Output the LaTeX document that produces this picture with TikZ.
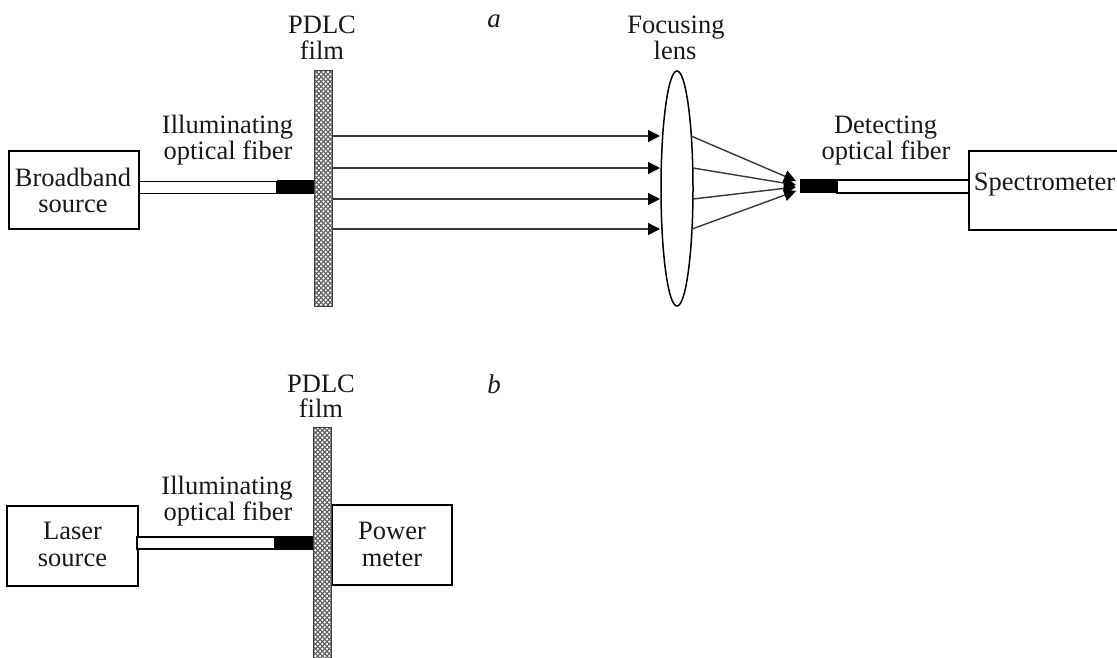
\documentclass[tikz,border=0pt]{standalone}
\usepackage{fontspec}
\setmainfont{Liberation Serif}
\usetikzlibrary{arrows.meta,shapes.geometric}
\tikzset{
  box/.style={draw,line width=1.5pt,fill=white,inner sep=0pt},
  lbl/.style={inner sep=0pt,text=black!90,font=\fontsize{26.5}{27}\selectfont,anchor=base},
  ital/.style={inner sep=0pt,anchor=base,text=black!90,font=\fontsize{27}{27}\selectfont\itshape},
  fibw/.style={draw,line width=1.5pt,fill=white,inner sep=0pt},
  fibb/.style={draw,line width=1pt,fill=black,inner sep=0pt},
  ray/.style={draw=black!78,line width=1.4pt,-{Triangle[length=12pt,width=12pt,color=black,fill=black]}},
  film/.style={draw=black!75,line width=1pt,fill=black!62,inner sep=0pt,
    minimum width=18pt,path picture={
      \foreach \i in {0,...,48}{\foreach \j in {0,...,4}{
        \fill[white] ([xshift=\j*4.6pt-0.3pt,yshift=\i*-4.8pt-1pt]path picture bounding box.north west) circle (1.3pt);
        \fill[white] ([xshift=\j*4.6pt+2pt,yshift=\i*-4.8pt-3.4pt]path picture bounding box.north west) circle (1.3pt);
      }}}},
}
\begin{document}
\begin{tikzpicture}[x=1pt,y=-1pt]
\useasboundingbox (0,0) rectangle (1117,658);
% panel a
\node[box,minimum width=130pt,minimum height=78pt] (bb) at (74,190) {};
\node[box,minimum width=151pt,minimum height=79pt] (sp) at (1044.5,190.5) {};
\node[fibw,minimum width=138pt,minimum height=12pt] (fa) at (208,187.5) {};
\node[fibb,minimum width=38pt,minimum height=13pt] (ba) at (296,187.5) {};
\node[film,minimum height=235pt] (filma) at (323.5,188.5) {};
\node[fibw,minimum width=132pt,minimum height=13pt] (fd) at (903,186.5) {};
\node[fibb,minimum width=37pt,minimum height=13pt] (bd) at (818.5,186.5) {};
\node[draw,ellipse,line width=1.5pt,fill=white,inner sep=0pt,minimum width=32pt,minimum height=235pt] (lens) at (677,188.5) {};
\coordinate (t1) at (796,181);
\coordinate (t2) at (796,185);
\coordinate (t3) at (796,187);
\coordinate (t4) at (796,191);
\foreach \n/\y in {1/136,2/168,3/199,4/229}{
  \coordinate (s\n) at (filma.east |- 0,\y);
  \coordinate (e\n) at (660,\y);
  \draw[ray] (s\n) -- (e\n);
}
\coordinate (o1) at (691,136);
\coordinate (o2) at (693,168);
\coordinate (o3) at (693,199);
\coordinate (o4) at (692,229);
\foreach \n in {1,2,3,4}{\draw[ray] (o\n) -- (t\n);}
\node[lbl] (bbl1) at (73,186) {Broadband};
\node[lbl] (bbl2) at (73,212) {source};
\node[lbl] (spl) at (1044.5,190) {Spectrometer};
\node[lbl] (pa) at (322,34) {PDLC};
\node[lbl] (fla) at (322,59.5) {film};
\node[ital] (la) at (494,28) {a};
\node[lbl] (fo) at (676,33.5) {Focusing};
\node[lbl] (le) at (675,60) {lens};
\node[lbl] (ia) at (227.5,134) {Illuminating};
\node[lbl] (oa) at (228,160) {optical fiber};
\node[lbl] (de) at (885.5,134) {Detecting};
\node[lbl] (od) at (886,160) {optical fiber};
% panel b
\node[box,minimum width=131pt,minimum height=80pt] (ls) at (72.5,546) {};
\node[fibw,minimum width=138pt,minimum height=12pt] (fb) at (206,543) {};
\node[fibb,minimum width=39pt,minimum height=13pt] (bb2) at (294.5,543) {};
\node[box,minimum width=120pt,minimum height=80pt] (pm) at (392,545) {};
\node[film,minimum height=232pt] (filmb) at (322.5,543) {};
\node[lbl] (lsl1) at (72.5,539) {Laser};
\node[lbl] (lsl2) at (72.5,566) {source};
\node[lbl] (pml1) at (392,539) {Power};
\node[lbl] (pml2) at (392,566) {meter};
\node[lbl] (pb) at (321,392) {PDLC};
\node[lbl] (flb) at (321,417) {film};
\node[ital] (lb) at (494,393) {b};
\node[lbl] (ib) at (227,494) {Illuminating};
\node[lbl] (ob) at (228,520) {optical fiber};
\end{tikzpicture}
\end{document}
